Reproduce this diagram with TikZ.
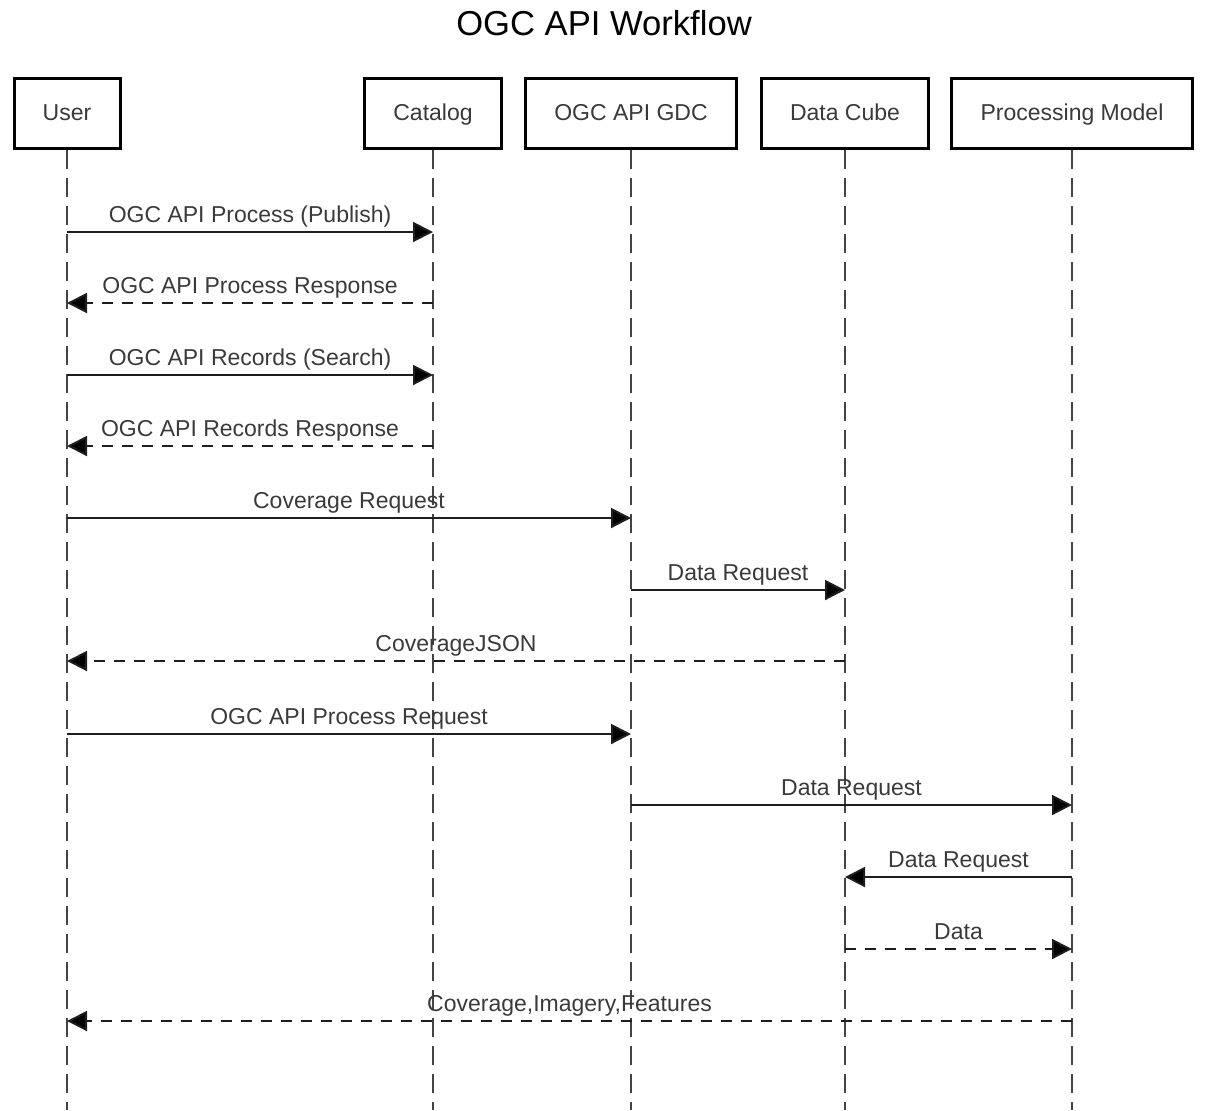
\documentclass[tikz,border=0pt]{standalone}
\usepackage{fontspec}
\setmainfont{Liberation Sans}
\usetikzlibrary{arrows.meta}
\definecolor{ink}{HTML}{1E1E1E}
\definecolor{life}{HTML}{444444}
\definecolor{txt}{HTML}{3A3A3A}
\tikzset{
  x=0.5pt, y=-0.5pt,
  actor/.style={draw=black, line width=1.5pt, fill=white, minimum height=35pt,
    inner sep=0pt, text=txt, font=\fontsize{11.5pt}{14pt}\selectfont,
    text height=0.72em, text depth=0pt, yshift=-0.8pt},
  lifeline/.style={draw=life, line width=1.2pt, dash pattern=on 9.5pt off 4.5pt},
  msg/.style={draw=ink, line width=1pt, -{Triangle[length=10pt,width=10pt,fill=black]}},
  reply/.style={msg, dash pattern=on 5.5pt off 4.5pt},
  lbl/.style={anchor=base, yshift=5pt, inner sep=0pt, text=txt,
    font=\fontsize{11.5pt}{14pt}\selectfont},
}
\begin{document}
\begin{tikzpicture}
\useasboundingbox (0,0) rectangle (1219,1110);

% title
\node[anchor=base, inner sep=0pt, font=\fontsize{17.3pt}{20pt}\selectfont, text=black]
  (title) at (604,35) {OGC API Workflow};

% participants
\node[actor, minimum width=53pt]   (user) at (67,112)   {User};
\node[actor, minimum width=68.5pt] (cat)  at (433,112)  {Catalog};
\node[actor, minimum width=105.5pt](gdc)  at (631,112)  {OGC API GDC};
\node[actor, minimum width=83.5pt] (cube) at (845,112)  {Data Cube};
\node[actor, minimum width=120.5pt](proc) at (1072,112) {Processing Model};

% lifelines
\foreach \p in {user,cat,gdc,cube,proc}{
  \coordinate (\p-end) at (\p |- 0,1110);
  \draw[lifeline] (\p.south) -- (\p-end);
}

% message rows
\foreach \i/\y in {1/232,2/303,3/375,4/446,5/518,6/590,7/661,8/734,9/805,10/877,11/949,12/1021}
  \coordinate (r\i) at (0,\y);

% messages
\draw[msg]   (user |- r1)  -- node[lbl]{OGC API Process (Publish)} (cat |- r1);
\draw[reply] (cat |- r2)   -- node[lbl]{OGC API Process Response} (user |- r2);
\draw[msg]   (user |- r3)  -- node[lbl]{OGC API Records (Search)} (cat |- r3);
\draw[reply] (cat |- r4)   -- node[lbl]{OGC API Records Response} (user |- r4);
\draw[msg]   (user |- r5)  -- node[lbl]{Coverage Request} (gdc |- r5);
\draw[msg]   (gdc |- r6)   -- node[lbl]{Data Request} (cube |- r6);
\draw[reply] (cube |- r7)  -- node[lbl]{CoverageJSON} (user |- r7);
\draw[msg]   (user |- r8)  -- node[lbl]{OGC API Process Request} (gdc |- r8);
\draw[msg]   (gdc |- r9)   -- node[lbl]{Data Request} (proc |- r9);
\draw[msg]   (proc |- r10) -- node[lbl]{Data Request} (cube |- r10);
\draw[reply] (cube |- r11) -- node[lbl]{Data} (proc |- r11);
\draw[reply] (proc |- r12) -- node[lbl]{Coverage,Imagery,Features} (user |- r12);
\end{tikzpicture}
\end{document}
